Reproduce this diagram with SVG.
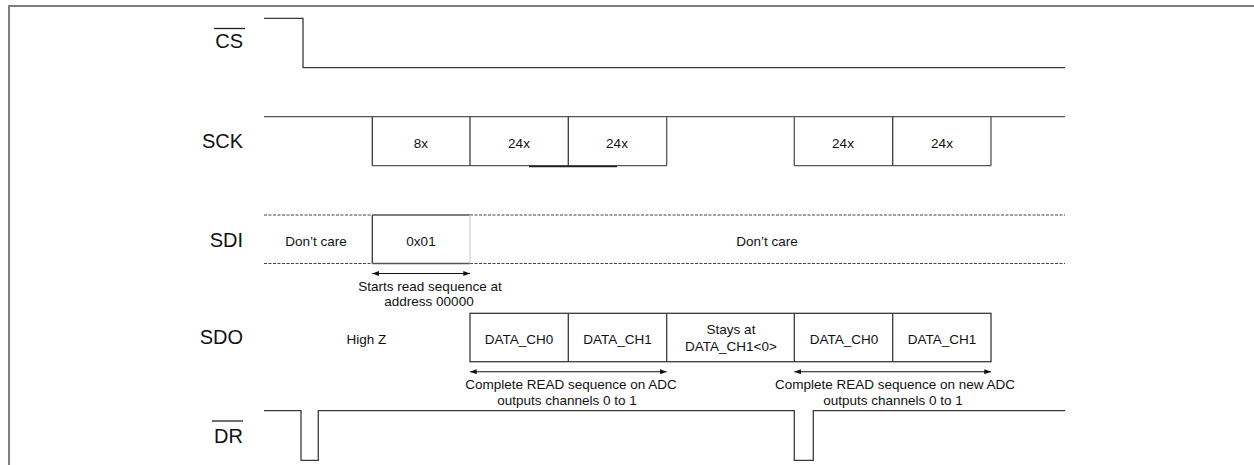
<svg xmlns="http://www.w3.org/2000/svg" width="1254" height="465" viewBox="0 0 1254 465">
<defs>
<marker id="ah" viewBox="0 0 8 6" refX="8" refY="3" markerWidth="7" markerHeight="5" markerUnits="userSpaceOnUse" orient="auto-start-reverse">
<path d="M0,0 L8,3 L0,6 Z" fill="#111"/>
</marker>
</defs>
<style>
.lbl{font-family:"Liberation Sans",Arial,sans-serif;font-size:20px;fill:#111;text-anchor:end}
.t{font-family:"Liberation Sans",Arial,sans-serif;font-size:13.5px;fill:#111;text-anchor:middle}
.w{fill:none;stroke:#3a3a3a;stroke-width:1.3}
.g{fill:none;stroke:#555;stroke-width:1.3}
.d{fill:none;stroke:#444;stroke-width:1.1;stroke-dasharray:3,1.5}
.ov{stroke:#222;stroke-width:1.3}
.ar{stroke:#111;stroke-width:1.1;fill:none}
</style>
<rect x="9" y="6" width="1260" height="470" fill="none" stroke="#7f7f7f" stroke-width="2"/>

<g id="cs">
<text class="lbl" x="243" y="48">CS</text>
<line class="ov" x1="214" y1="28.5" x2="245" y2="28.5"/>
<polyline class="w" points="264,18.3 303,18.3 303,67.7 1065,67.7"/>
</g>

<g id="sck">
<text class="lbl" x="243" y="148">SCK</text>
<polyline class="g" points="264,116.7 1065,116.7"/>
<line class="g" x1="372.3" y1="165.7" x2="666.7" y2="165.7"/>
<line stroke="#222" stroke-width="1.3" x1="529" y1="166.5" x2="617" y2="166.5"/>
<line class="w" x1="372.3" y1="116.7" x2="372.3" y2="165.7"/>
<line class="w" x1="470" y1="116.7" x2="470" y2="165.7"/>
<line class="w" x1="568.3" y1="116.7" x2="568.3" y2="165.7"/>
<line class="g" x1="666.7" y1="116.7" x2="666.7" y2="165.7"/>
<line class="g" x1="794.3" y1="116.7" x2="794.3" y2="165.7"/>
<line class="g" x1="794.3" y1="165.7" x2="991" y2="165.7"/>
<line class="w" x1="892.7" y1="116.7" x2="892.7" y2="165.7"/>
<line class="g" x1="991" y1="116.7" x2="991" y2="165.7"/>
<text class="t" x="421" y="147.5">8x</text>
<text class="t" x="519" y="147.5">24x</text>
<text class="t" x="617" y="147.5">24x</text>
<text class="t" x="843" y="147.5">24x</text>
<text class="t" x="942" y="147.5">24x</text>
</g>

<g id="sdi">
<text class="lbl" x="243" y="246.7">SDI</text>
<line class="d" x1="264" y1="215" x2="372.3" y2="215"/>
<line class="d" x1="264" y1="263.5" x2="372.3" y2="263.5"/>
<line class="d" x1="470" y1="215" x2="1065" y2="215"/>
<line class="d" x1="470" y1="263.5" x2="1065" y2="263.5"/>
<line class="g" x1="372.3" y1="215" x2="470" y2="215"/>
<line class="g" x1="372.3" y1="263.5" x2="470" y2="263.5"/>
<line class="w" x1="372.3" y1="215" x2="372.3" y2="263.5"/>
<line stroke="#d0d0d0" stroke-width="1.2" x1="470" y1="215" x2="470" y2="263.5"/>
<text class="t" x="316" y="245.5">Don’t care</text>
<text class="t" x="421" y="245.5">0x01</text>
<text class="t" x="767" y="245.5">Don’t care</text>
</g>

<g id="sdo">
<text class="lbl" x="243" y="344">SDO</text>
<text class="t" x="366.5" y="343.5">High Z</text>
<rect class="w" x="470" y="313.3" width="521" height="48.4"/>
<line class="w" x1="568.3" y1="313.3" x2="568.3" y2="361.7"/>
<line class="w" x1="666.7" y1="313.3" x2="666.7" y2="361.7"/>
<line class="w" x1="794.3" y1="313.3" x2="794.3" y2="361.7"/>
<line class="w" x1="892.7" y1="313.3" x2="892.7" y2="361.7"/>
<text class="t" x="519" y="344">DATA_CH0</text>
<text class="t" x="617.5" y="344">DATA_CH1</text>
<text class="t" x="731" y="333.5">Stays at</text>
<text class="t" x="731" y="351">DATA_CH1&lt;0&gt;</text>
<text class="t" x="844" y="344">DATA_CH0</text>
<text class="t" x="942" y="344">DATA_CH1</text>
</g>

<g id="dr">
<text class="lbl" x="243" y="442.7">DR</text>
<line class="ov" x1="212" y1="421" x2="243" y2="421"/>
<polyline class="w" points="264,410.7 301,410.7 301,460.3 318.3,460.3 318.3,410.7 794.3,410.7 794.3,460.3 813.3,460.3 813.3,410.7 1065,410.7"/>
</g>

<g id="connectors">
<line class="ar" x1="372.3" y1="273.5" x2="470" y2="273.5" marker-start="url(#ah)" marker-end="url(#ah)"/>
<line class="ar" x1="470" y1="371.7" x2="666.7" y2="371.7" marker-start="url(#ah)" marker-end="url(#ah)"/>
<line class="ar" x1="794.3" y1="371.7" x2="991" y2="371.7" marker-start="url(#ah)" marker-end="url(#ah)"/>
</g>

<g id="notes">
<text class="t" x="430" y="291">Starts read sequence at</text>
<text class="t" x="429" y="306">address 00000</text>
<text class="t" x="571" y="389">Complete READ sequence on ADC</text>
<text class="t" x="567" y="405">outputs channels 0 to 1</text>
<text class="t" x="895" y="389">Complete READ sequence on new ADC</text>
<text class="t" x="893" y="405">outputs channels 0 to 1</text>
</g>
</svg>
